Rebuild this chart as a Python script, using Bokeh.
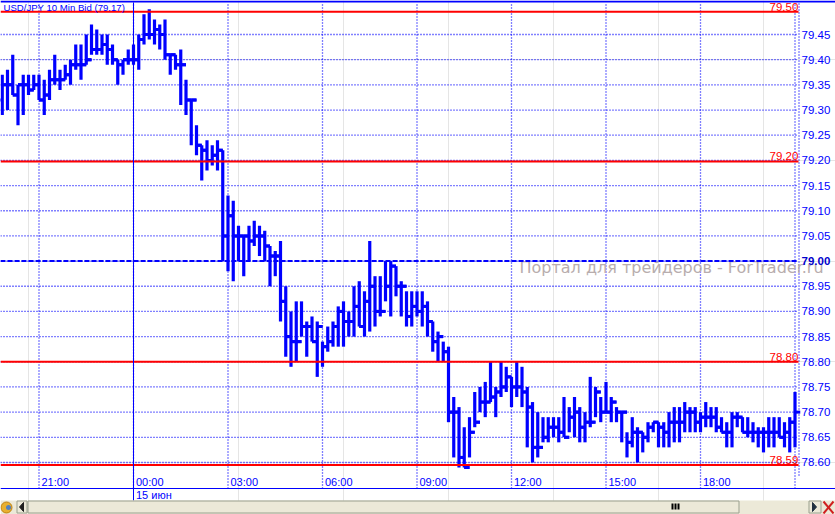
from bokeh.plotting import figure
from bokeh.embed import file_html
from bokeh.resources import INLINE
from bokeh.models import Range1d, LinearAxis, FixedTicker, PrintfTickFormatter, ColumnDataSource
from bokeh.core.properties import value

# chart values
bar_index = list(range(-25, 127))
highs = [79.37,79.38,79.41,79.35,79.37,79.37,79.37,79.37,79.36,79.38,79.41,79.38,79.39,79.40,79.43,79.43,79.45,79.47,79.46,79.45,79.45,79.43,79.40,79.40,79.42,
         79.43,79.45,79.49,79.50,79.48,79.47,79.48,79.41,79.41,79.42,79.36,79.32,79.27,79.23,79.24,79.23,79.24,79.22,79.13,79.12,79.07,79.05,79.07,79.08,79.07,79.06,79.03,79.02,
         79.04,78.95,78.90,78.92,78.92,78.88,78.89,78.88,78.84,78.87,78.88,78.91,78.92,78.90,78.95,78.96,78.94,79.04,78.97,78.97,79.00,79.00,78.99,78.96,78.94,78.94,78.94,78.94,
         78.92,78.88,78.86,78.84,78.83,78.73,78.71,78.67,78.69,78.74,78.75,78.76,78.80,78.75,78.80,78.79,78.77,78.80,78.79,78.75,78.72,78.70,78.69,78.69,78.69,78.69,78.73,78.71,
         78.73,78.71,78.70,78.77,78.75,78.73,78.76,78.73,78.71,78.70,78.66,78.69,78.67,78.66,78.68,78.68,78.68,78.68,78.70,78.71,78.71,78.72,78.71,78.71,78.70,78.72,78.71,78.71,
         78.69,78.68,78.70,78.70,78.69,78.69,78.68,78.67,78.67,78.69,78.69,78.69,78.68,78.69,78.74]
lows = [79.29,79.30,79.33,79.27,79.29,79.33,79.34,79.32,79.29,79.32,79.35,79.34,79.36,79.35,79.38,79.36,79.39,79.41,79.41,79.41,79.39,79.39,79.35,79.37,79.39,
        79.39,79.38,79.43,79.44,79.43,79.42,79.40,79.37,79.38,79.31,79.29,79.23,79.21,79.16,79.18,79.19,79.18,79.00,78.98,78.96,79.00,78.97,79.00,79.03,79.01,79.00,78.95,78.97,
        78.88,78.81,78.79,78.80,78.85,78.81,78.84,78.77,78.79,78.82,78.83,78.83,78.83,78.85,78.85,78.87,78.85,78.86,78.87,78.89,78.92,78.89,78.93,78.89,78.87,78.87,78.89,78.87,
        78.85,78.82,78.80,78.80,78.68,78.61,78.59,78.59,78.61,78.67,78.70,78.69,78.72,78.69,78.73,78.74,78.71,78.73,78.71,78.63,78.60,78.61,78.64,78.64,78.65,78.64,78.65,78.66,
        78.65,78.64,78.64,78.67,78.69,78.68,78.70,78.68,78.68,78.64,78.61,78.63,78.60,78.62,78.64,78.66,78.63,78.63,78.63,78.64,78.64,78.66,78.66,78.66,78.66,78.67,78.67,78.66,
        78.66,78.63,78.63,78.67,78.66,78.65,78.64,78.63,78.62,78.63,78.63,78.65,78.63,78.62,78.63]
closes = [79.35,79.35,79.33,79.35,79.35,79.34,79.35,79.32,79.33,79.36,79.36,79.36,79.37,79.39,79.39,79.39,79.40,79.42,79.42,79.43,79.42,79.40,79.39,79.40,79.40,
          79.40,79.44,79.45,79.45,79.46,79.45,79.41,79.41,79.39,79.39,79.32,79.32,79.23,79.22,79.20,79.21,79.22,79.05,79.09,79.05,79.05,79.05,79.04,79.05,79.05,79.03,79.01,79.01,
          78.92,78.85,78.84,78.84,78.87,78.87,78.84,78.87,78.83,78.84,78.87,78.90,78.88,78.88,78.91,78.87,78.92,78.95,78.90,78.90,78.95,78.99,78.95,78.95,78.89,78.91,78.90,78.91,
          78.88,78.84,78.85,78.82,78.70,78.70,78.61,78.59,78.66,78.68,78.72,78.72,78.73,78.74,78.75,78.77,78.75,78.75,78.74,78.71,78.63,78.63,78.65,78.67,78.67,78.66,78.65,78.69,
          78.70,78.67,78.68,78.68,78.74,78.70,78.70,78.72,78.70,78.70,78.64,78.66,78.66,78.65,78.67,78.68,78.67,78.66,78.68,78.68,78.68,78.70,78.70,78.68,78.69,78.69,78.69,78.67,
          78.66,78.66,78.69,78.69,78.66,78.66,78.66,78.66,78.66,78.66,78.66,78.65,78.66,78.68,78.70]
opens = [79.32] + closes[:-1]

price_ticks = [78.60,78.65,78.70,78.75,78.80,78.85,78.90,78.95,79.05,79.10,79.15,79.20,79.25,79.30,79.35,79.40,79.45]
current_level = 79.00
time_ticks = [-18, 0, 18, 36, 54, 72, 90, 108]
time_labels = ["21:00","00:00","03:00","06:00","09:00","12:00","15:00","18:00"]
last_grid = 126
level_prices = [79.495, 79.198, 78.80, 78.595]
level_labels = ["79.50", "79.20", "78.80", "78.59"]
title_text = "USD/JPY 10 Min Bid (79.17)"
date_text = "15 июн"
watermark = "Портал для трейдеров - ForTrader.ru"

BLUE = "#0000ff"; RED = "#ff0000"; FONT = "Liberation Sans"; GREY = "#ece9d8"
W, H = 835, 514
PX_BAR, PX_UNIT = 5.25, 503.5

def dx(px):  # window pixel -> bar index
    return (px - 133) / PX_BAR

def dy(py):  # window pixel -> price
    return 79.45 - (py - 34) / PX_UNIT

p = figure(width=W, height=H, output_backend="svg", toolbar_location=None,
           x_range=Range1d(dx(0), dx(W)), y_range=Range1d(dy(H), dy(0)),
           x_axis_location=None, y_axis_location=None,
           min_border_left=0, min_border_top=0, min_border_right=0, min_border_bottom=0,
           background_fill_color="white", border_fill_color="white", outline_line_color=None)

# grid
gx = time_ticks + [last_grid]
p.segment(gx, [dy(488)] * len(gx), gx, [dy(2)] * len(gx), line_color=BLUE, line_dash="1 2", line_width=1.3)
p.segment([dx(798.5)], [dy(475)], [dx(798.5)], [dy(2)], line_color=BLUE, line_dash="1 2", line_width=1.3)
gy = price_ticks + [current_level]
p.segment([dx(0)] * len(gy), gy, [dx(798)] * len(gy), gy, line_color=BLUE, line_dash="1 2", line_width=1.3)

# watermark sits below the bars
p.text([dx(519)], [dy(267)], text=[watermark], text_color="#b8adad", text_font=value("DejaVu Sans"),
       text_font_size="16px", text_baseline="middle", text_align="left")

# price axis placed inside the window, as on the original
yaxis = LinearAxis(ticker=FixedTicker(ticks=price_ticks), formatter=PrintfTickFormatter(format="%.2f"),
                   fixed_location=dx(798), major_tick_line_color=None, minor_tick_line_color=None,
                   axis_line_color=None, major_label_text_color=BLUE, major_label_text_font=FONT,
                   major_label_text_font_size="11.5px", major_label_standoff=-3)
p.add_layout(yaxis, "right")
p.text([dx(801)], [current_level], text=["79.00"], text_color="#0000cc", text_font=value(FONT), text_font_style="bold",
       text_font_size="11.5px", text_baseline="middle")

# bars
src = ColumnDataSource(dict(i=bar_index, hi=highs, lo=lows, op=opens, cl=closes,
                            il=[k - 1 for k in bar_index], ir=[k + 1 for k in bar_index]))
p.segment("i", "hi", "i", "lo", source=src, line_color=BLUE, line_width=3.2)
p.segment("il", "op", "i", "op", source=src, line_color=BLUE, line_width=3)
p.segment("i", "cl", "ir", "cl", source=src, line_color=BLUE, line_width=3)

# levels
n = len(level_prices)
p.segment([dx(0)] * n, level_prices, [dx(798)] * n, level_prices, line_color=RED, line_width=2)
p.segment([dx(0)], [current_level], [dx(798)], [current_level], line_color=BLUE, line_width=2, line_dash="5 2")
p.segment([0], [dy(500)], [0], [dy(2)], line_color=BLUE, line_width=1)
p.text([dx(769)] * n, level_prices, text=level_labels, text_color=RED, text_font=value(FONT),
       text_font_size="11.5px", text_baseline="bottom", y_offset=-1)

# time labels
p.text(time_ticks, [dy(481)] * len(time_ticks), text=time_labels, x_offset=2.5, text_color=BLUE, text_font=value(FONT),
       text_font_size="11px", text_baseline="middle")

# window chrome
def rect(x0, y0, x1, y1, fill, line=None):
    p.quad(left=[dx(x0)], right=[dx(x1)], top=[dy(y0)], bottom=[dy(y1)], fill_color=fill, line_color=line)

rect(0, 0, 835, 2, BLUE)
p.segment([dx(0)], [dy(488)], [dx(835)], [dy(488)], line_color=BLUE, line_width=1)
rect(0, 500, 835, 514, GREY)
rect(16.5, 500.5, 26.5, 512.5, GREY, "#9aa08e")
rect(27.5, 500.5, 738.5, 512.5, GREY, "#9aa08e")
rect(808.5, 500.5, 820.5, 512.5, GREY, "#9aa08e")
for bx in (671, 674, 677):
    rect(bx, 503, bx + 2, 509, "#000000")
p.patch([dx(23), dx(23), dx(19)], [dy(502), dy(511), dy(506.5)], color="#202020")
p.patch([dx(812), dx(812), dx(816)], [dy(502), dy(511), dy(506.5)], color="#203040")
p.scatter([dx(6)], [dy(507)], size=11, marker="circle", fill_color="#e8b030", line_color="#c08010")
p.scatter([dx(8)], [dy(507)], size=5, marker="circle", fill_color="#5080c0", line_color=None)
p.segment([dx(823), dx(823)], [dy(501), dy(513)], [dx(833), dx(833)], [dy(513), dy(501)], line_color="#d02020", line_width=2)

p.text([dx(3)], [dy(6.5)], text=[title_text], text_color=BLUE, text_font=value(FONT), text_font_size="9.6px", text_baseline="middle")
p.text([dx(135.5)], [dy(494.5)], text=[date_text], text_color=BLUE, text_font=value(FONT), text_font_size="11px", text_baseline="middle")

open("out.html", "w").write(file_html(p, INLINE))
